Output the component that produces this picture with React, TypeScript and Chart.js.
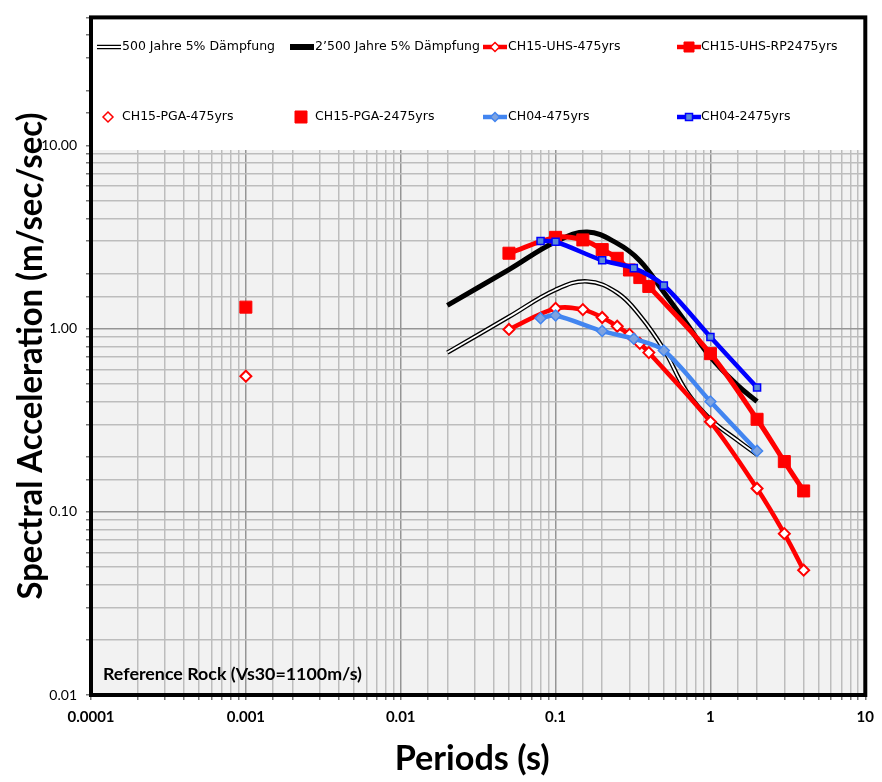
import React, { useEffect, useRef } from 'react';
import { Chart, registerables } from 'chart.js';

Chart.register(...registerables);

// ---------------- data ----------------
const sia500Periods = [0.02, 0.05, 0.1, 0.16, 0.25, 0.35, 0.5, 0.7, 1, 1.5, 2];
const sia500Values = [0.74, 1.16, 1.63, 1.81, 1.57, 1.18, 0.77, 0.455, 0.32, 0.245, 0.205];

const sia2500Periods = [0.02, 0.05, 0.1, 0.16, 0.25, 0.35, 0.5, 0.7, 1, 1.5, 2];
const sia2500Values = [1.34, 2.1, 2.98, 3.37, 2.92, 2.35, 1.58, 1.07, 0.7, 0.49, 0.4];

const uhsPeriods = [0.05, 0.1, 0.15, 0.2, 0.25, 0.3, 0.35, 0.4, 1, 2, 3, 4];
const uhs475Values = [0.99, 1.29, 1.27, 1.15, 1.03, 0.93, 0.83, 0.74, 0.31, 0.134, 0.076, 0.048];
const uhs2475Values = [2.58, 3.15, 3.05, 2.7, 2.42, 2.09, 1.9, 1.7, 0.73, 0.32, 0.188, 0.13];

const pgaPeriods = [0.001];
const pga475Values = [0.55];
const pga2475Values = [1.31];

const ch04Periods = [0.08, 0.1, 0.2, 0.32, 0.5, 1, 2];
const ch04_475Values = [1.14, 1.18, 0.97, 0.88, 0.76, 0.4, 0.215];
const ch04_2475Values = [3.01, 2.98, 2.36, 2.14, 1.72, 0.9, 0.477];

const xMajorValues = [0.0001, 0.001, 0.01, 0.1, 1, 10];
const xMajorLabels = ['0.0001', '0.001', '0.01', '0.1', '1', '10'];
const yMajorValues = [0.01, 0.1, 1, 10];
const yMajorLabels = ['0.01', '0.10', '1.00', '10.00'];

const legendLabels = [
  '500 Jahre 5% Dämpfung',
  '2’500 Jahre 5% Dämpfung',
  'CH15-UHS-475yrs',
  'CH15-UHS-RP2475yrs',
  'CH15-PGA-475yrs',
  'CH15-PGA-2475yrs',
  'CH04-475yrs',
  'CH04-2475yrs',
];

const xTitle = 'Periods (s)';
const yTitle = 'Spectral Acceleration (m/sec/sec)';
const noteText = 'Reference Rock (Vs30=1100m/s)';

// ---------------- styles ----------------
const RED = '#ff0000';
const BLUE = '#0000ff';
const LBLUE = '#4285f0';
const LBLUE_FILL = '#7ea3e0';
const BLUE_FILL = '#5a8ad8';

const pts = (xs: number[], ys: number[]) => xs.map((x, i) => ({ x, y: ys[i] }));

const isDecade = (v: number) => {
  const l = Math.log10(v);
  return Math.abs(l - Math.round(l)) < 1e-6;
};
const labelFor = (v: number, vals: number[], labels: string[]) => {
  for (let i = 0; i < vals.length; i++) {
    if (Math.abs(Math.log10(v) - Math.log10(vals[i])) < 1e-6) return labels[i];
  }
  return '';
};

function diamond(ctx: CanvasRenderingContext2D, x: number, y: number, r: number, fill: string, stroke: string, lw: number) {
  ctx.beginPath();
  ctx.moveTo(x, y - r);
  ctx.lineTo(x + r, y);
  ctx.lineTo(x, y + r);
  ctx.lineTo(x - r, y);
  ctx.closePath();
  ctx.fillStyle = fill;
  ctx.fill();
  ctx.lineWidth = lw;
  ctx.strokeStyle = stroke;
  ctx.stroke();
}
function square(ctx: CanvasRenderingContext2D, x: number, y: number, h: number, fill: string, stroke: string, lw: number) {
  ctx.beginPath();
  ctx.rect(x - h, y - h, 2 * h, 2 * h);
  ctx.fillStyle = fill;
  ctx.fill();
  ctx.lineWidth = lw;
  ctx.strokeStyle = stroke;
  ctx.stroke();
}
function seg(ctx: CanvasRenderingContext2D, x1: number, x2: number, y: number, color: string, lw: number) {
  ctx.beginPath();
  ctx.moveTo(x1, y);
  ctx.lineTo(x2, y);
  ctx.strokeStyle = color;
  ctx.lineWidth = lw;
  ctx.lineCap = 'butt';
  ctx.stroke();
}
function fittedText(
  ctx: CanvasRenderingContext2D,
  text: string,
  x: number,
  y: number,
  font: string,
  targetWidth: number,
  align: CanvasTextAlign,
  rotate: boolean
) {
  ctx.save();
  ctx.translate(x, y);
  if (rotate) ctx.rotate(-Math.PI / 2);
  ctx.font = font;
  const w = ctx.measureText(text).width;
  ctx.scale(targetWidth / w, 1);
  ctx.textAlign = align;
  ctx.textBaseline = 'middle';
  ctx.fillStyle = '#000';
  ctx.fillText(text, 0, 0);
  ctx.restore();
}

const decorPlugin = {
  id: 'decor',
  beforeDraw(chart: any) {
    const { ctx, chartArea: a } = chart;
    ctx.save();
    ctx.fillStyle = '#ffffff';
    ctx.fillRect(0, 0, chart.width, chart.height);
    ctx.fillStyle = '#f2f2f2';
    ctx.fillRect(a.left, a.top, a.right - a.left, a.bottom - a.top);
    ctx.restore();
  },
  beforeDatasetsDraw(chart: any) {
    const { ctx, chartArea: a } = chart;
    ctx.save();
    ctx.fillStyle = '#ffffff';
    ctx.fillRect(a.left, a.top, a.right - a.left, 150 - a.top);

    const r1 = 47;
    const r2 = 117;
    const cols = [97, 290, 483, 677];
    const sw = 24;
    // row 1
    seg(ctx, cols[0], cols[0] + sw, r1, '#000', 4.5);
    seg(ctx, cols[0], cols[0] + sw, r1, '#fff', 2);
    seg(ctx, cols[1], cols[1] + sw, r1, '#000', 6);
    seg(ctx, cols[2], cols[2] + sw, r1, RED, 4.5);
    diamond(ctx, cols[2] + sw / 2, r1, 4.5, '#fff', RED, 1.5);
    seg(ctx, cols[3], cols[3] + sw, r1, RED, 4.5);
    square(ctx, cols[3] + sw / 2, r1, 5, RED, RED, 1);
    // row 2
    diamond(ctx, 108, r2, 5, '#fff', RED, 1.5);
    square(ctx, 301, r2, 6, RED, RED, 1);
    seg(ctx, cols[2], cols[2] + sw, r2, LBLUE, 4.5);
    diamond(ctx, cols[2] + sw / 2, r2, 4.5, LBLUE_FILL, LBLUE, 1.5);
    seg(ctx, cols[3], cols[3] + sw, r2, BLUE, 4.5);
    square(ctx, cols[3] + sw / 2, r2, 3.5, BLUE_FILL, BLUE, 1.5);

    ctx.fillStyle = '#000';
    ctx.font = '12.5px "DejaVu Sans"';
    ctx.textAlign = 'left';
    ctx.textBaseline = 'middle';
    const tx = [122, 315, 508, 701];
    for (let i = 0; i < 4; i++) ctx.fillText(legendLabels[i], tx[i], r1);
    for (let i = 0; i < 4; i++) ctx.fillText(legendLabels[4 + i], tx[i], r2);
    ctx.restore();
  },
  afterDraw(chart: any) {
    const { ctx, chartArea: a } = chart;
    ctx.save();
    ctx.strokeStyle = '#000';
    ctx.lineWidth = 4;
    ctx.strokeRect(a.left, a.top, a.right - a.left, a.bottom - a.top);
    ctx.restore();
    fittedText(ctx, noteText, 103, 675, 'bold 17px Lato', 259, 'left', false);
    fittedText(ctx, xTitle, (a.left + a.right) / 2 - 6, 759, 'bold 34px Lato', 155, 'center', false);
    fittedText(ctx, yTitle, 31, 356, 'bold 34px Lato', 487, 'center', true);
  },
};

export default function App() {
  const ref = useRef<HTMLCanvasElement | null>(null);

  useEffect(() => {
    document.body.style.margin = '0';
    const canvas = ref.current;
    if (!canvas) return;

    const gridColor = (c: any) => (c.tick && isDecade(c.tick.value) ? '#959595' : '#bdbdbd');

    const chart = new Chart(canvas, {
      type: 'line',
      data: {
        datasets: [
          {
            label: legendLabels[7],
            data: pts(ch04Periods, ch04_2475Values),
            borderColor: BLUE,
            borderWidth: 4.5,
            backgroundColor: BLUE_FILL,
            pointStyle: 'rect',
            pointRadius: 5,
            pointBorderColor: BLUE,
            pointBorderWidth: 1.5,
            pointBackgroundColor: BLUE_FILL,
            tension: 0.3,
            order: 1,
          },
          {
            label: legendLabels[6],
            data: pts(ch04Periods, ch04_475Values),
            borderColor: LBLUE,
            borderWidth: 4.5,
            pointStyle: 'rectRot',
            pointRadius: 5.5,
            pointBorderColor: LBLUE,
            pointBorderWidth: 1.5,
            pointBackgroundColor: LBLUE_FILL,
            tension: 0.3,
            order: 2,
          },
          {
            label: legendLabels[2],
            data: pts(uhsPeriods, uhs475Values),
            borderColor: RED,
            borderWidth: 4.5,
            pointStyle: 'rectRot',
            pointRadius: 5.5,
            pointBorderColor: RED,
            pointBorderWidth: 2,
            pointBackgroundColor: '#ffffff',
            tension: 0.35,
            order: 3,
          },
          {
            label: legendLabels[3],
            data: pts(uhsPeriods, uhs2475Values),
            borderColor: RED,
            borderWidth: 5,
            pointStyle: 'rect',
            pointRadius: 8.5,
            pointBorderColor: RED,
            pointBorderWidth: 1,
            pointBackgroundColor: RED,
            tension: 0.35,
            order: 4,
          },
          {
            label: legendLabels[4],
            data: pts(pgaPeriods, pga475Values),
            showLine: false,
            pointStyle: 'rectRot',
            pointRadius: 5.5,
            pointBorderColor: RED,
            pointBorderWidth: 2,
            pointBackgroundColor: '#ffffff',
            order: 5,
          },
          {
            label: legendLabels[5],
            data: pts(pgaPeriods, pga2475Values),
            showLine: false,
            pointStyle: 'rect',
            pointRadius: 8.5,
            pointBorderColor: RED,
            pointBorderWidth: 1,
            pointBackgroundColor: RED,
            order: 6,
          },
          {
            label: legendLabels[1],
            data: pts(sia2500Periods, sia2500Values),
            borderColor: '#000000',
            borderWidth: 5,
            pointRadius: 0,
            tension: 0.4,
            order: 7,
          },
          {
            label: legendLabels[0] + ' inner',
            data: pts(sia500Periods, sia500Values),
            borderColor: '#ffffff',
            borderWidth: 1.8,
            pointRadius: 0,
            tension: 0.4,
            order: 8,
          },
          {
            label: legendLabels[0],
            data: pts(sia500Periods, sia500Values),
            borderColor: '#000000',
            borderWidth: 4.5,
            pointRadius: 0,
            tension: 0.4,
            order: 9,
          },
        ],
      },
      options: {
        animation: false,
        responsive: false,
        devicePixelRatio: 1,
        events: [],
        layout: { padding: { top: 8, right: 13, left: 0, bottom: 0 } },
        plugins: { legend: { display: false }, tooltip: { enabled: false } },
        scales: {
          x: {
            type: 'logarithmic',
            min: 0.0001,
            max: 10,
            afterFit: (s: any) => {
              s.height = 87;
            },
            border: { display: false },
            grid: { color: gridColor, lineWidth: 1.5, tickLength: 5, tickColor: '#777', drawTicks: true },
            ticks: {
              autoSkip: false,
              maxRotation: 0,
              padding: 8,
              color: '#000',
              font: { family: 'Lato', size: 15, weight: 'bold' },
              callback: (v: any) => labelFor(Number(v), xMajorValues, xMajorLabels),
            },
          },
          y: {
            type: 'logarithmic',
            min: 0.01,
            max: 50,
            afterFit: (s: any) => {
              s.width = 91;
            },
            border: { display: false },
            grid: { color: gridColor, lineWidth: 1.5, tickLength: 5, tickColor: '#777', drawTicks: true },
            ticks: {
              autoSkip: false,
              padding: 9,
              color: '#000',
              font: { family: 'Lato', size: 14 },
              callback: (v: any) => labelFor(Number(v), yMajorValues, yMajorLabels),
            },
          },
        },
      } as any,
      plugins: [decorPlugin],
    });

    return () => chart.destroy();
  }, []);

  return (
    <div style={{ position: 'absolute', left: 0, top: 0, width: 882, height: 782 }}>
      <canvas ref={ref} width={882} height={782} style={{ display: 'block', width: 882, height: 782 }} />
    </div>
  );
}
